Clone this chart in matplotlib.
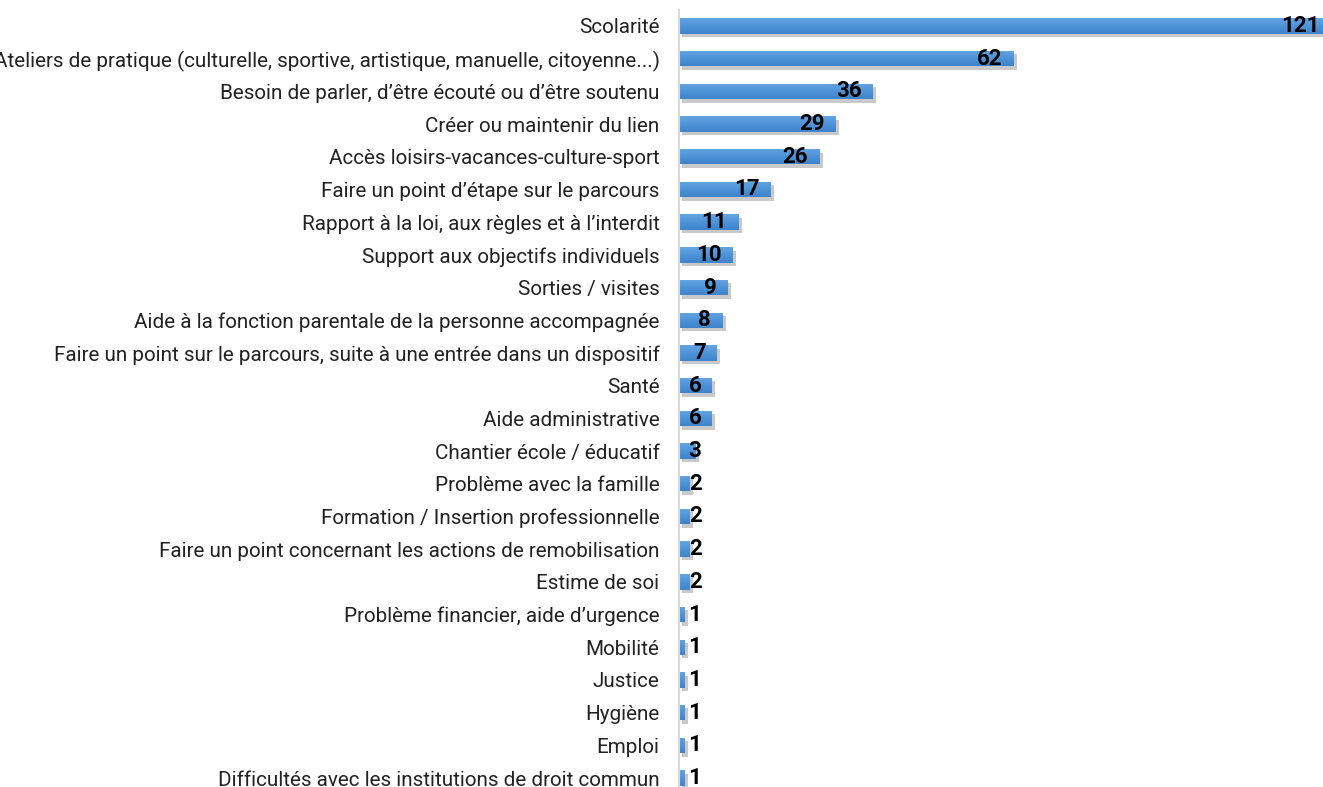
import numpy as np
import matplotlib.pyplot as plt
import matplotlib.patheffects as pe
from matplotlib.colors import LinearSegmentedColormap

plt.rcParams['font.family'] = ['Roboto', 'DejaVu Sans']

categories = [
    "Scolarité",
    "Ateliers de pratique (culturelle, sportive, artistique, manuelle, citoyenne...)",
    "Besoin de parler, d’être écouté ou d’être soutenu",
    "Créer ou maintenir du lien",
    "Accès loisirs-vacances-culture-sport",
    "Faire un point d’étape sur le parcours",
    "Rapport à la loi, aux règles et à l’interdit",
    "Support aux objectifs individuels",
    "Sorties / visites",
    "Aide à la fonction parentale de la personne accompagnée",
    "Faire un point sur le parcours, suite à une entrée dans un dispositif",
    "Santé",
    "Aide administrative",
    "Chantier école / éducatif",
    "Problème avec la famille",
    "Formation / Insertion professionnelle",
    "Faire un point concernant les actions de remobilisation",
    "Estime de soi",
    "Problème financier, aide d’urgence",
    "Mobilité",
    "Justice",
    "Hygiène",
    "Emploi",
    "Difficultés avec les institutions de droit commun",
]
values = [121, 62, 36, 29, 26, 17, 11, 10, 9, 8, 7, 6, 6, 3, 2, 2, 2, 2, 1, 1, 1, 1, 1, 1]

W, H = 1323, 787
fig = plt.figure(figsize=(W / 100, H / 100), dpi=100)

# axes placed in pixel terms; the longest bar runs a bit past the right edge
x0, x1 = 679, 1331
y_top, y_bot = 9.6, 794.4
ax = fig.add_axes([x0 / W, 1 - y_bot / H, (x1 - x0) / W, (y_bot - y_top) / H])

pos = list(range(len(categories)))
bh = 0.47
bars = ax.barh(pos, values, height=bh, color='#4b8fd5', zorder=2)

# vertical gradient inside each bar (lighter on top, darker at the bottom)
cmap = LinearSegmentedColormap.from_list('bar', ['#3f84cb', '#4f93d8', '#64a4e2'])
grad = np.linspace(0, 1, 64).reshape(-1, 1)
for b, p, v in zip(bars, pos, values):
    b.set_path_effects([pe.SimplePatchShadow(offset=(2.5, -2.5), shadow_rgbFace='#666666', alpha=0.35),
                        pe.Normal()])
    im = ax.imshow(grad, cmap=cmap, aspect='auto', origin='upper',
                   extent=(0, v, p - bh / 2, p + bh / 2), zorder=2.5)
    im.set_clip_path(b)

ax.set_xlim(0, 121)
ax.set_ylim(len(categories) - 0.5, -0.5)

ax.set_yticks(pos)
ax.set_yticklabels(categories, fontsize=14.9, color='#222222')
ax.tick_params(axis='y', length=0, pad=14)
ax.set_xticks([])

for s in ['top', 'right', 'bottom']:
    ax.spines[s].set_visible(False)
ax.spines['left'].set_color('#d9d9d9')
ax.spines['left'].set_linewidth(1.5)
ax.spines['left'].set_zorder(3)

# value labels: inside the end of the bar, pushed right when the bar is too short
unit = (x1 - x0) / 121.0
for p, v in zip(pos, values):
    txt = str(v)
    w_units = len(txt) * 12.5 / unit
    xr = max(v - 11 / unit, 10 / unit + w_units)
    ax.text(xr, p, txt, ha='right', va='center', fontsize=16, fontweight='bold',
            color='black', zorder=4)

fig.savefig('out.png', dpi=100)
